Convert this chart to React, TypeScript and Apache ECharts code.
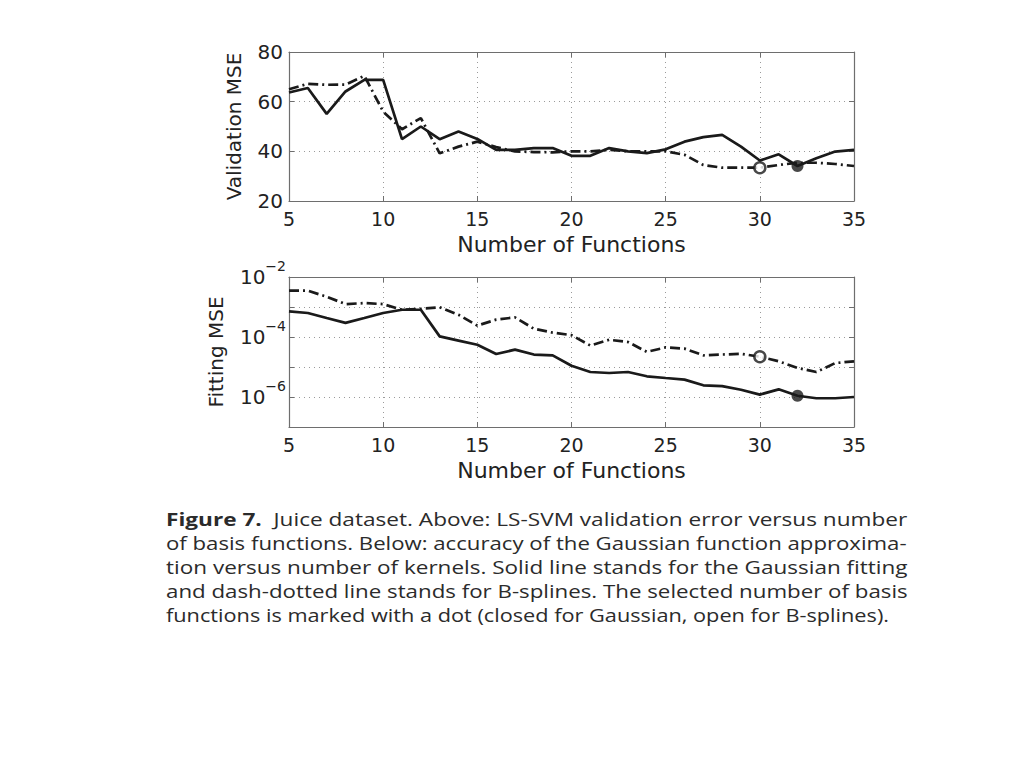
import React, { useEffect, useRef } from "react";
import * as echarts from "echarts";

const functionCounts = [5, 6, 7, 8, 9, 10, 11, 12, 13, 14, 15, 16, 17, 18, 19, 20, 21, 22, 23, 24, 25, 26, 27, 28, 29, 30, 31, 32, 33, 34, 35];

const validationGaussian = [63.7, 65.5, 55.1, 64.1, 68.8, 68.8, 44.9, 50, 44.9, 48, 45, 40.6, 40.6, 41.3, 41.3, 38.2, 38.2, 41.3, 40, 39.3, 40.8, 43.9, 45.7, 46.6, 41.9, 36.3, 38.8, 34.1, 37.2, 39.9, 40.6];
const validationBspline = [65, 67.2, 66.8, 66.9, 70.4, 56, 48.9, 53.4, 39.2, 41.9, 43.9, 41.7, 40, 39.7, 39.6, 40, 40, 40.6, 40, 40, 40, 38.6, 34.5, 33.4, 33.4, 33.4, 34.5, 35.4, 35.4, 34.9, 34.1];

const fittingGaussian = [7.1e-4, 6.3e-4, 4.3e-4, 2.95e-4, 4.3e-4, 6.3e-4, 8.1e-4, 8.1e-4, 1.05e-4, 7.6e-5, 5.5e-5, 2.7e-5, 3.8e-5, 2.6e-5, 2.45e-5, 1.1e-5, 6.8e-6, 6.3e-6, 6.8e-6, 4.9e-6, 4.3e-6, 3.8e-6, 2.45e-6, 2.3e-6, 1.75e-6, 1.2e-6, 1.8e-6, 1.1e-6, 9.1e-7, 9.1e-7, 1.0e-6];
const fittingBspline = [3.5e-3, 3.5e-3, 2.2e-3, 1.25e-3, 1.35e-3, 1.25e-3, 8.1e-4, 8.7e-4, 9.8e-4, 5.5e-4, 2.4e-4, 3.8e-4, 4.5e-4, 1.9e-4, 1.4e-4, 1.15e-4, 5.2e-5, 8.1e-5, 6.8e-5, 3.2e-5, 4.5e-5, 4.1e-5, 2.45e-5, 2.6e-5, 2.75e-5, 2.2e-5, 1.55e-5, 9.3e-6, 6.8e-6, 1.35e-5, 1.55e-5];

const selectedGaussian = 32;
const selectedBspline = 30;

const fitTickValues = [1e-2, 1e-4, 1e-6];
const fitTickExponents = ["\u22122", "\u22124", "\u22126"];

const captionLines = [
  "{b|Figure 7.}  Juice dataset. Above: LS-SVM validation error versus number",
  "of basis functions. Below: accuracy of the Gaussian function approxima-",
  "tion versus number of kernels. Solid line stands for the Gaussian fitting",
  "and dash-dotted line stands for B-splines. The selected number of basis",
  "functions is marked with a dot (closed for Gaussian, open for B-splines).",
];
// horizontal stretch per caption line, so the justified lines span the same width as in the figure
const captionStretch = [1.256, 1.233, 1.251, 1.239, 1.207];

const AXIS_FONT = "DejaVu Sans";
const LINE_COLOR = "#1a1a1a";
const BOX_COLOR = "#6e6e6e";
const LABEL_COLOR = "#222";

function pairs(values: number[]) {
  return functionCounts.map((x, i) => [x, values[i]]);
}
function pick(values: number[], x: number) {
  return [[x, values[functionCounts.indexOf(x)]]];
}

export default function App() {
  const ref = useRef<HTMLDivElement>(null);
  useEffect(() => {
    if (!ref.current) return;
    const chart = echarts.init(ref.current, undefined, { renderer: "svg" });

    const xBase = (gridIndex: number) => ({
      type: "value",
      gridIndex,
      min: 5,
      max: 35,
      interval: 5,
      position: "bottom",
      axisLine: { show: true, lineStyle: { color: BOX_COLOR, width: 1.2 } },
      axisTick: { show: true, inside: true, length: 5, lineStyle: { color: BOX_COLOR } },
      axisLabel: { show: true, color: LABEL_COLOR, fontFamily: AXIS_FONT, fontSize: 19, lineHeight: 18, margin: 9 },
      splitLine: { show: true, lineStyle: { color: "#9a9a9a", type: [1, 4], width: 1 } },
      name: "Number of Functions",
      nameLocation: "middle",
      nameGap: 33,
      nameTextStyle: { color: LABEL_COLOR, fontFamily: AXIS_FONT, fontSize: 22, lineHeight: 20 },
    });
    const xTop = (gridIndex: number) => ({
      type: "value",
      gridIndex,
      min: 5,
      max: 35,
      interval: 5,
      position: "top",
      axisLine: { show: true, lineStyle: { color: BOX_COLOR, width: 1.2 } },
      axisTick: { show: true, inside: true, length: 5, lineStyle: { color: BOX_COLOR } },
      axisLabel: { show: false },
      splitLine: { show: false },
    });

    const option: any = {
      animation: false,
      backgroundColor: "#ffffff",
      grid: [
        { left: 289, top: 52, width: 565, height: 149, containLabel: false },
        { left: 289, top: 277, width: 565, height: 150, containLabel: false },
      ],
      xAxis: [xBase(0), xTop(0), xBase(1), xTop(1)],
      yAxis: [
        {
          type: "value",
          gridIndex: 0,
          min: 20,
          max: 80,
          interval: 20,
          position: "left",
          axisLine: { show: true, lineStyle: { color: BOX_COLOR, width: 1.2 } },
          axisTick: { show: true, inside: true, length: 5, lineStyle: { color: BOX_COLOR } },
          axisLabel: { color: LABEL_COLOR, fontFamily: AXIS_FONT, fontSize: 20, margin: 6 },
          splitLine: { show: true, lineStyle: { color: "#9a9a9a", type: [1, 4], width: 1 } },
          name: "Validation MSE",
          nameLocation: "middle",
          nameGap: 45,
          nameRotate: 90,
          nameTextStyle: { color: LABEL_COLOR, fontFamily: AXIS_FONT, fontSize: 20 },
        },
        {
          type: "value",
          gridIndex: 0,
          min: 20,
          max: 80,
          interval: 20,
          position: "right",
          axisLine: { show: true, lineStyle: { color: BOX_COLOR, width: 1.2 } },
          axisTick: { show: true, inside: true, length: 5, lineStyle: { color: BOX_COLOR } },
          axisLabel: { show: false },
          splitLine: { show: false },
        },
        {
          type: "log",
          logBase: 10,
          gridIndex: 1,
          min: 1e-7,
          max: 1e-2,
          splitNumber: 5,
          position: "left",
          axisLine: { show: true, lineStyle: { color: BOX_COLOR, width: 1.2 } },
          axisTick: { show: true, inside: true, length: 5, lineStyle: { color: BOX_COLOR } },
          axisLabel: {
            margin: 3,
            formatter: (v: number) => {
              const idx = fitTickValues.findIndex((t) => Math.abs(Math.log10(t) - Math.log10(v)) < 0.01);
              return idx >= 0 ? `{b|10}{s|${fitTickExponents[idx]}}` : "";
            },
            rich: {
              b: { color: LABEL_COLOR, fontFamily: AXIS_FONT, fontSize: 20, lineHeight: 36 },
              s: { color: LABEL_COLOR, fontFamily: AXIS_FONT, fontSize: 14, verticalAlign: "top", lineHeight: 14 },
            },
          },
          splitLine: { show: true, lineStyle: { color: "#9a9a9a", type: [1, 4], width: 1 } },
          name: "Fitting MSE",
          nameLocation: "middle",
          nameGap: 63,
          nameRotate: 90,
          nameTextStyle: { color: LABEL_COLOR, fontFamily: AXIS_FONT, fontSize: 20 },
        },
        {
          type: "log",
          logBase: 10,
          gridIndex: 1,
          min: 1e-7,
          max: 1e-2,
          splitNumber: 5,
          position: "right",
          axisLine: { show: true, lineStyle: { color: BOX_COLOR, width: 1.2 } },
          axisTick: { show: true, inside: true, length: 5, lineStyle: { color: BOX_COLOR } },
          axisLabel: { show: false },
          splitLine: { show: false },
        },
      ],
      series: [
        {
          name: "Gaussian validation",
          type: "line",
          xAxisIndex: 0,
          yAxisIndex: 0,
          data: pairs(validationGaussian),
          showSymbol: false,
          lineStyle: { color: LINE_COLOR, width: 2.7 },
          z: 3,
        },
        {
          name: "B-spline validation",
          type: "line",
          xAxisIndex: 0,
          yAxisIndex: 0,
          data: pairs(validationBspline),
          showSymbol: false,
          lineStyle: { color: LINE_COLOR, width: 2.7, type: [10, 4, 2, 4] },
          z: 2,
        },
        {
          name: "Gaussian fitting",
          type: "line",
          xAxisIndex: 2,
          yAxisIndex: 2,
          data: pairs(fittingGaussian),
          showSymbol: false,
          lineStyle: { color: LINE_COLOR, width: 2.7 },
          z: 3,
        },
        {
          name: "B-spline fitting",
          type: "line",
          xAxisIndex: 2,
          yAxisIndex: 2,
          data: pairs(fittingBspline),
          showSymbol: false,
          lineStyle: { color: LINE_COLOR, width: 2.7, type: [10, 4, 2, 4] },
          z: 2,
        },
        {
          type: "scatter",
          xAxisIndex: 0,
          yAxisIndex: 0,
          data: pick(validationGaussian, selectedGaussian),
          symbol: "circle",
          symbolSize: 12,
          itemStyle: { color: LINE_COLOR },
          z: 5,
        },
        {
          type: "scatter",
          xAxisIndex: 0,
          yAxisIndex: 0,
          data: pick(validationBspline, selectedBspline),
          symbol: "circle",
          symbolSize: 11,
          itemStyle: { color: "#ffffff", borderColor: LINE_COLOR, borderWidth: 2.5 },
          z: 5,
        },
        {
          type: "scatter",
          xAxisIndex: 2,
          yAxisIndex: 2,
          data: pick(fittingGaussian, selectedGaussian),
          symbol: "circle",
          symbolSize: 12,
          itemStyle: { color: LINE_COLOR },
          z: 5,
        },
        {
          type: "scatter",
          xAxisIndex: 2,
          yAxisIndex: 2,
          data: pick(fittingBspline, selectedBspline),
          symbol: "circle",
          symbolSize: 11,
          itemStyle: { color: "#ffffff", borderColor: LINE_COLOR, borderWidth: 2.5 },
          z: 5,
        },
      ],
      graphic: captionLines.map((line, i) => ({
        type: "text",
        x: 166,
        y: 519 + i * 24,
        scaleX: captionStretch[i],
        style: {
          text: line,
          fill: "#2b2b2b",
          fontFamily: "Open Sans",
          fontSize: 18,
          verticalAlign: "middle",
          align: "left",
          rich: {
            b: { fontFamily: "Open Sans", fontSize: 18, fontWeight: "bold", fill: "#2b2b2b" },
          },
        },
      })),
    };

    chart.setOption(option);
    return () => chart.dispose();
  }, []);

  return (
    <div
      ref={ref}
      style={{ position: "absolute", left: 0, top: 0, width: 1024, height: 768, background: "#fff" }}
    />
  );
}
